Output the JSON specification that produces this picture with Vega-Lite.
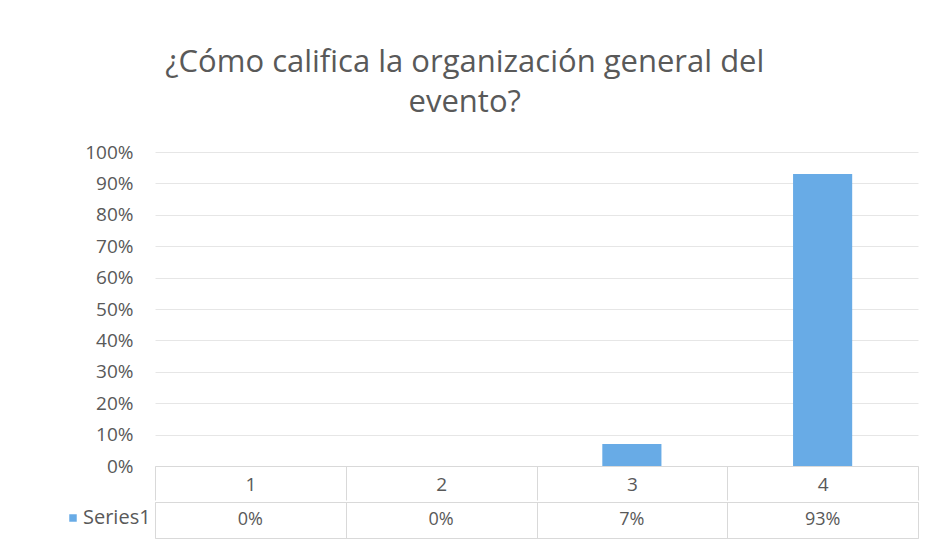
{
  "$schema": "https://vega.github.io/schema/vega-lite/v6.json",
  "background": "#ffffff",
  "padding": {"left": 63, "top": 47, "right": 5, "bottom": 5},
  "title": {
    "text": ["¿Cómo califica la organización general del", "evento?"],
    "fontSize": 31,
    "font": "Open Sans",
    "fontWeight": "normal",
    "color": "#595959",
    "lineHeight": 40,
    "anchor": "middle",
    "offset": 24,
    "dx": -26
  },
  "data": {
    "values": [
      {"cat": "1", "pct": 0.0, "series": "Series1"},
      {"cat": "2", "pct": 0.0, "series": "Series1"},
      {"cat": "3", "pct": 0.07, "series": "Series1"},
      {"cat": "4", "pct": 0.93, "series": "Series1"}
    ]
  },
  "spacing": 0,
  "vconcat": [
    {
      "width": 763,
      "height": 314,
      "view": {"stroke": null},
      "mark": {"type": "bar", "width": {"band": 0.31}},
      "encoding": {
        "x": {
          "field": "cat", "type": "ordinal",
          "scale": {"paddingInner": 0, "paddingOuter": 0},
          "axis": {
            "title": null, "labelAngle": 0, "labelFontSize": 19, "labelColor": "#595959",
            "labelFont": "Open Sans", "tickBand": "extent", "tickSize": 34, "tickColor": "#d9d9d9",
            "domainColor": "#d9d9d9", "labelPadding": -25, "grid": false
          }
        },
        "y": {
          "field": "pct", "type": "quantitative",
          "scale": {"domain": [0, 1]},
          "axis": {
            "title": null, "format": ".0%",
            "values": [0, 0.1, 0.2, 0.3, 0.4, 0.5, 0.6, 0.7, 0.8, 0.9, 1],
            "domain": false, "ticks": false, "labelPadding": 22,
            "gridColor": "#e6e6e6", "labelFontSize": 19, "labelColor": "#595959", "labelFont": "Open Sans"
          }
        },
        "color": {
          "field": "series", "type": "nominal",
          "scale": {"range": ["#68abe6"]},
          "legend": {
            "title": null, "orient": "none", "legendX": -92, "legendY": 356,
            "symbolType": "square", "symbolSize": 56, "labelFontSize": 20,
            "labelColor": "#595959", "labelFont": "Open Sans", "symbolStrokeWidth": 0, "labelOffset": 0
          }
        }
      }
    },
    {
      "width": 763,
      "height": 36,
      "view": {"stroke": "#d9d9d9"},
      "mark": {"type": "text", "fontSize": 18, "color": "#595959", "font": "Open Sans"},
      "encoding": {
        "x": {
          "field": "cat", "type": "ordinal",
          "scale": {"paddingInner": 0, "paddingOuter": 0},
          "axis": {
            "title": null, "labels": false, "ticks": false, "domain": false,
            "grid": true, "tickBand": "extent", "gridColor": "#d9d9d9"
          }
        },
        "text": {"field": "pct", "type": "quantitative", "format": ".0%"}
      }
    }
  ]
}
